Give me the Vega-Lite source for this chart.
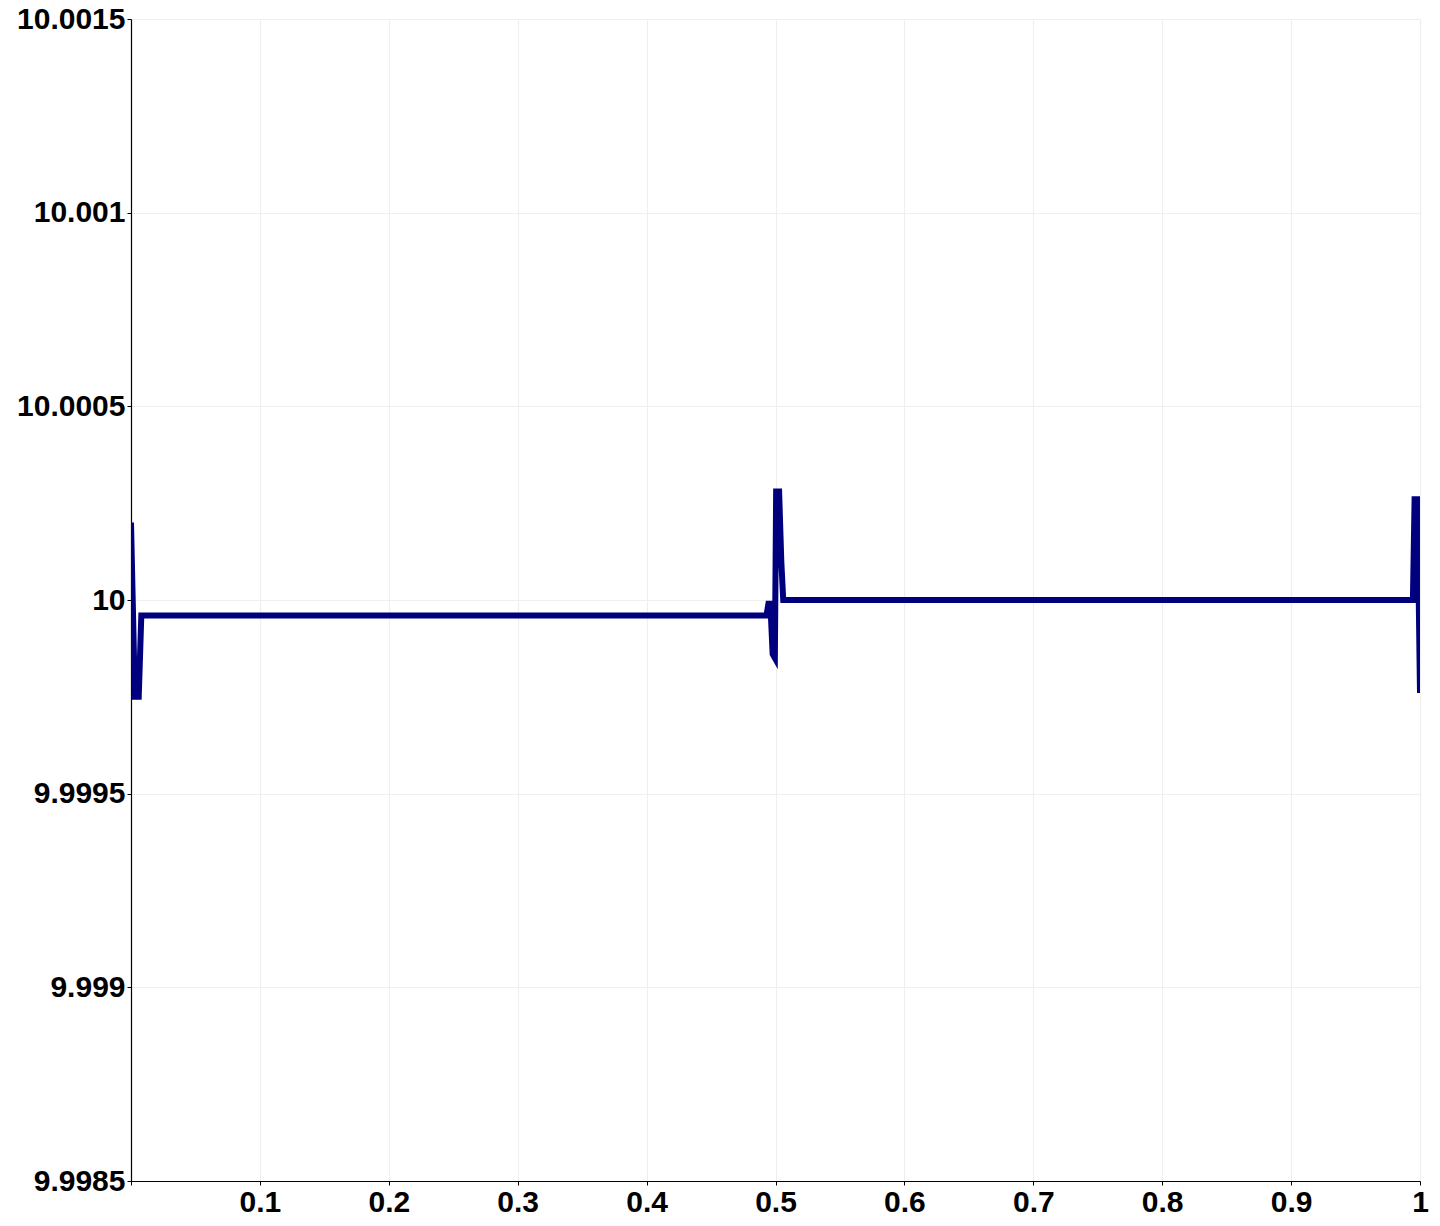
{
  "$schema": "https://vega.github.io/schema/vega-lite/v6.json",
  "autosize": "none",
  "padding": {"left": 131, "top": 19, "right": 20, "bottom": 45},
  "width": 1289,
  "height": 1162,
  "background": "white",
  "config": {
    "view": {"stroke": null},
    "axis": {
      "labelFont": "Liberation Sans",
      "labelFontWeight": "bold",
      "labelFontSize": 30,
      "labelColor": "#000000",
      "domainColor": "#000000",
      "domainWidth": 1.2,
      "tickColor": "#000000",
      "tickSize": 4,
      "gridColor": "#efefef",
      "gridWidth": 1.2,
      "title": null
    }
  },
  "data": {
    "values": [
      {"x": 0.0, "y": 10.0002},
      {"x": 0.0030, "y": 9.99975},
      {"x": 0.0060, "y": 9.99975},
      {"x": 0.0080, "y": 9.99996},
      {"x": 0.4930, "y": 9.99996},
      {"x": 0.4945, "y": 9.99999},
      {"x": 0.4960, "y": 9.99999},
      {"x": 0.4978, "y": 9.99986},
      {"x": 0.4995, "y": 9.99985},
      {"x": 0.5005, "y": 10.00028},
      {"x": 0.5028, "y": 10.00028},
      {"x": 0.5045, "y": 10.0001},
      {"x": 0.5060, "y": 10.0},
      {"x": 0.9945, "y": 10.0},
      {"x": 0.9958, "y": 10.00026},
      {"x": 0.9980, "y": 10.00026},
      {"x": 1.0, "y": 9.99976}
    ]
  },
  "mark": {"type": "line", "color": "#00007f", "strokeWidth": 6, "clip": true, "strokeJoin": "miter"},
  "encoding": {
    "x": {
      "field": "x",
      "type": "quantitative",
      "scale": {"domain": [0, 1], "nice": false, "zero": false},
      "axis": {
        "values": [0, 0.1, 0.2, 0.3, 0.4, 0.5, 0.6, 0.7, 0.8, 0.9, 1],
        "labelExpr": "datum.value == 0 ? '' : format(datum.value, '~g')",
        "labelPadding": 2,
        "labelFlush": false,
        "labelOverlap": false
      }
    },
    "y": {
      "field": "y",
      "type": "quantitative",
      "scale": {"domain": [9.9985, 10.0015], "nice": false, "zero": false},
      "axis": {
        "values": [9.9985, 9.999, 9.9995, 10, 10.0005, 10.001, 10.0015],
        "format": "~g",
        "labelPadding": 2,
        "labelFlush": false,
        "labelOverlap": false
      }
    }
  }
}
